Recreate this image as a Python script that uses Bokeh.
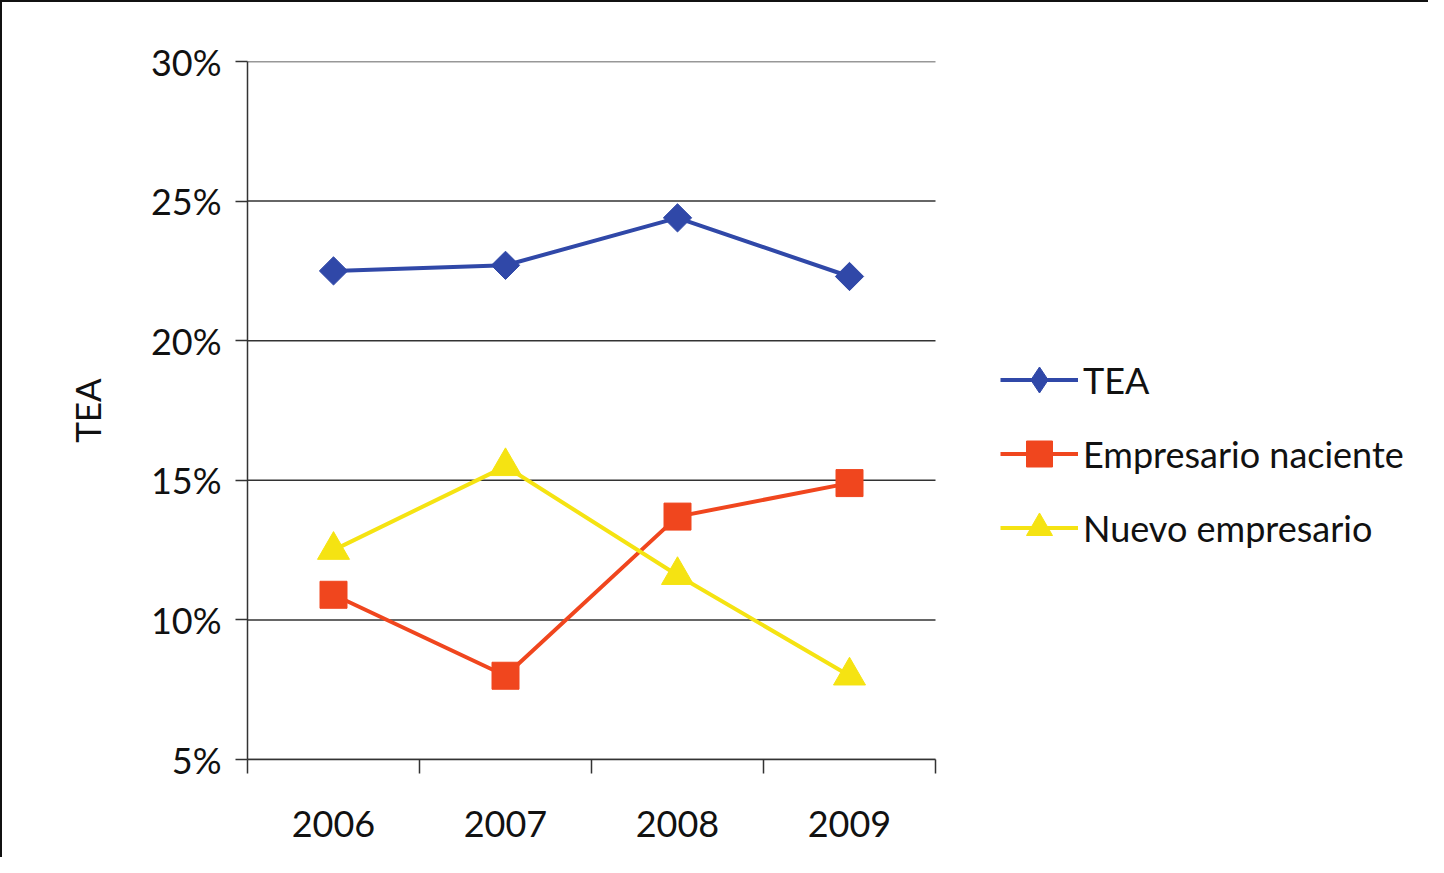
import math
from bokeh.plotting import figure
from bokeh.models import (FixedTicker, Legend, LegendItem, Range1d, NumeralTickFormatter)
from bokeh.embed import file_html
from bokeh.resources import INLINE

years = ["2006", "2007", "2008", "2009"]
tea = [0.225, 0.227, 0.244, 0.223]
naciente = [0.109, 0.080, 0.137, 0.149]
nuevo = [0.125, 0.155, 0.116, 0.080]
y_ticks = [0.05, 0.10, 0.15, 0.20, 0.25, 0.30]

FONT = "Lato"
BLUE = "#3048a8"
RED = "#f0461e"
YELLOW = "#f5e312"

# layout (pixels)
FIG_W, FIG_H = 1428, 857
LEFT, TOP, BOTTOM = 245, 59, 100
PLOT_W = 688                      # width of the category area
FRAME_W = FIG_W - LEFT            # frame extends to the right edge (legend lives there)
n = len(years)
x_end = n * FRAME_W / PLOT_W

xs = [i + 0.5 for i in range(n)]

p = figure(width=FIG_W, height=FIG_H, output_backend="svg", toolbar_location=None,
           x_range=Range1d(0, x_end), y_range=Range1d(0.05, 0.30),
           min_border_left=LEFT, min_border_top=TOP, min_border_right=0,
           min_border_bottom=BOTTOM)
p.styles = {"border-left": "2px solid #111", "border-top": "2px solid #111"}
p.outline_line_color = None
p.background_fill_color = "white"
p.border_fill_color = "white"

# grid (drawn only over the category area)
p.xgrid.grid_line_color = None
p.ygrid.grid_line_color = None
p.segment(x0=[0] * len(y_ticks), x1=[n] * len(y_ticks), y0=y_ticks, y1=y_ticks,
          line_color="#333333", line_width=1.5)

# y axis
p.yaxis.ticker = FixedTicker(ticks=y_ticks)
p.yaxis.formatter = NumeralTickFormatter(format="0%")
p.yaxis.major_label_text_font = FONT
p.yaxis.major_label_text_font_size = "36px"
p.yaxis.major_label_text_color = "#111111"
p.yaxis.major_tick_out = 12
p.yaxis.major_tick_in = 0
p.yaxis.minor_tick_line_color = None
p.yaxis.axis_line_color = "#333333"
p.yaxis.axis_line_width = 1.5
p.yaxis.major_tick_line_color = "#333333"
p.yaxis.major_tick_line_width = 1.5
p.yaxis.major_label_standoff = 14
p.yaxis.axis_label = "TEA"
p.yaxis.axis_label_text_font = FONT
p.yaxis.axis_label_text_font_size = "35px"
p.yaxis.axis_label_text_font_style = "normal"
p.yaxis.axis_label_text_color = "#111111"
p.yaxis.axis_label_standoff = 40

# x axis
p.xaxis.bounds = (0, n)
p.xaxis.ticker = FixedTicker(ticks=xs, minor_ticks=list(range(n + 1)))
p.xaxis.major_label_overrides = {x: y for x, y in zip(xs, years)}
p.xaxis.major_tick_out = 0
p.xaxis.major_tick_in = 0
p.xaxis.minor_tick_out = 14
p.xaxis.minor_tick_in = 0
p.xaxis.minor_tick_line_color = "#333333"
p.xaxis.minor_tick_line_width = 1.5
p.xaxis.axis_line_color = "#333333"
p.xaxis.axis_line_width = 1.5
p.xaxis.major_label_text_font = FONT
p.xaxis.major_label_text_font_size = "36px"
p.xaxis.major_label_text_color = "#111111"
p.xaxis.major_label_standoff = 37

# series
r1l = p.line(xs, tea, line_color=BLUE, line_width=4)
p.scatter(xs, tea, marker="square", angle=math.pi / 4, size=20,
          fill_color=BLUE, line_color=BLUE)
# hidden renderer only used for the legend's diamond glyph
r1g = p.scatter(xs, tea, marker="diamond", fill_color=BLUE, line_color=BLUE, visible=False)
r2l = p.line(xs, naciente, line_color=RED, line_width=4)
r2m = p.scatter(xs, naciente, marker="square", size=27, fill_color=RED, line_color=RED)
r3l = p.line(xs, nuevo, line_color=YELLOW, line_width=4)
r3m = p.scatter(xs, nuevo, marker="triangle", size=32, fill_color=YELLOW, line_color=YELLOW)

legend = Legend(items=[
    LegendItem(label="TEA", renderers=[r1l, r1g]),
    LegendItem(label="Empresario naciente", renderers=[r2l, r2m]),
    LegendItem(label="Nuevo empresario", renderers=[r3l, r3m]),
], location=(753, 199))
legend.label_text_font = FONT
legend.label_text_font_size = "36px"
legend.label_text_color = "#111111"
legend.glyph_width = 78
legend.glyph_height = 65
legend.label_height = 65
legend.label_standoff = 5
legend.spacing = 9
legend.padding = 0
legend.margin = 0
legend.border_line_color = None
legend.background_fill_alpha = 0
p.add_layout(legend, "center")

open("out.html", "w").write(file_html(p, INLINE))
